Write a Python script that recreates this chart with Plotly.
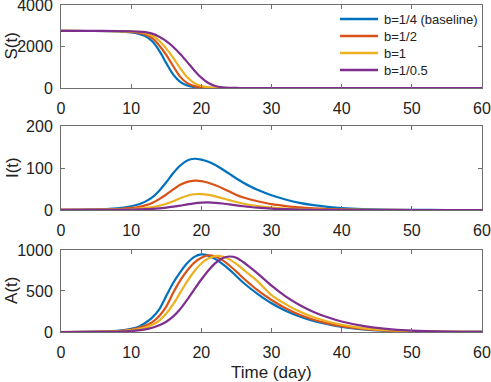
import plotly.graph_objects as go

# time points (days)
t = [0, 4, 8, 10, 11, 12, 13, 14, 15, 16, 17, 18, 19, 20, 21, 22, 23, 24, 25, 26, 27, 28,
     30, 32, 34, 36, 38, 40, 43, 46, 50, 55, 60]

series_names = ["b=1/4 (baseline)", "b=1/2", "b=1", "b=1/0.5"]
colors = ["#0072BD", "#D95319", "#EDB120", "#7E2F8E"]

# S(t)
S_b025 = [2750, 2748, 2730, 2680, 2620, 2500, 2250, 1800, 1200, 650, 300, 120, 45, 15, 5, 2, 1, 0, 0, 0, 0, 0,
          0, 0, 0, 0, 0, 0, 0, 0, 0, 0, 0]
S_b05 = [2750, 2749, 2740, 2710, 2670, 2580, 2400, 2050, 1600, 1050, 540, 240, 95, 35, 12, 4, 1, 0, 0, 0, 0, 0,
         0, 0, 0, 0, 0, 0, 0, 0, 0, 0, 0]
S_b1 = [2750, 2749, 2745, 2725, 2700, 2640, 2520, 2280, 1900, 1450, 950, 520, 240, 100, 40, 15, 5, 2, 1, 0, 0, 0,
        0, 0, 0, 0, 0, 0, 0, 0, 0, 0, 0]
S_b2 = [2750, 2750, 2747, 2735, 2720, 2690, 2620, 2470, 2260, 1980, 1640, 1250, 850, 500, 240, 100, 38, 14, 5, 2, 1, 0,
        0, 0, 0, 0, 0, 0, 0, 0, 0, 0, 0]

# I(t)
I_b025 = [0.5, 1, 4, 9, 13, 20, 30, 46, 66, 88, 106, 118, 122, 120, 115, 107, 97, 86, 75, 65, 56, 48,
          35, 25, 17, 11.5, 7.5, 4.5, 2, 1, 0.3, 0.1, 0]
I_b05 = [0.5, 1, 2.5, 5, 7, 11, 17, 26, 37, 49, 60, 67, 70, 69, 65, 59, 52, 44, 36, 30, 25, 21,
         14, 9.5, 6.2, 4, 2.5, 1.5, 0.7, 0.3, 0.1, 0, 0]
I_b1 = [0.3, 0.6, 1.3, 2.3, 3.2, 4.6, 7, 10, 15, 21, 28, 34, 37.5, 38, 36, 32.5, 28, 23.5, 19, 15, 12, 9.5,
        6, 3.6, 2.1, 1.2, 0.7, 0.4, 0.15, 0.05, 0, 0, 0]
I_b2 = [0.2, 0.3, 0.6, 1, 1.4, 2, 2.8, 4, 5.8, 8, 10.5, 13.5, 16, 17.5, 18, 17.2, 15.5, 13.3, 11, 9, 7.2, 5.7,
        3.4, 2, 1.1, 0.6, 0.3, 0.15, 0.05, 0, 0, 0, 0]

# A(t)
A_b025 = [0, 2, 15, 40, 62, 110, 175, 275, 440, 600, 730, 840, 915, 945, 930, 890, 830, 760, 680, 600, 530, 465,
          350, 260, 190, 135, 95, 62, 32, 16, 6, 2, 0.5]
A_b05 = [0, 1.5, 11, 30, 48, 75, 120, 195, 310, 480, 630, 750, 845, 905, 935, 920, 875, 810, 735, 655, 580, 510,
         390, 290, 210, 150, 105, 70, 37, 19, 7, 2, 0.5]
A_b1 = [0, 1, 8, 22, 35, 55, 88, 140, 225, 340, 480, 620, 740, 835, 895, 925, 920, 885, 830, 760, 690, 620,
        450, 340, 250, 180, 128, 88, 48, 25, 10, 3, 0.8]
A_b2 = [0, 0.5, 4, 12, 20, 32, 52, 82, 125, 190, 280, 395, 520, 640, 750, 840, 900, 920, 905, 850, 785, 715,
        565, 435, 330, 245, 180, 128, 75, 42, 17, 5, 1.5]

panels = [
    ("S(t)", [S_b025, S_b05, S_b1, S_b2], [0, 4000], [0, 2000, 4000]),
    ("I(t)", [I_b025, I_b05, I_b1, I_b2], [0, 200], [0, 100, 200]),
    ("A(t)", [A_b025, A_b05, A_b1, A_b2], [0, 1000], [0, 500, 1000]),
]

x_ticks = [0, 10, 20, 30, 40, 50, 60]

FONT = "Liberation Sans, Arial, Helvetica, sans-serif"
AXCOL = "#6e6e6e"
TXT = "#222"

W, H = 491, 382
ML, MR, MT, MB = 61, 9, 5, 50
PW, PH = W - ML - MR, H - MT - MB
fig = go.Figure()
domains = [[0.746, 1.0], [0.373, 0.630], [0.0, 0.251]]


def px_x(px):
    return (px - ML) / PW


def px_y(py):
    return (H - MB - py) / PH


for pi, (title, ys, yr, yt) in enumerate(panels):
    xa = "x" if pi == 0 else f"x{pi+1}"
    ya = "y" if pi == 0 else f"y{pi+1}"
    for si in range(4):
        fig.add_trace(go.Scatter(
            x=t, y=ys[si], mode="lines", name=series_names[si],
            line=dict(color=colors[si], width=2.2, shape="spline", smoothing=0.8),
            xaxis=xa, yaxis=ya, showlegend=False,
        ))
    xkey = "xaxis" if pi == 0 else f"xaxis{pi+1}"
    ykey = "yaxis" if pi == 0 else f"yaxis{pi+1}"
    fig.layout[xkey] = dict(
        domain=[0, 1], anchor=ya, range=[0, 60], tickvals=x_ticks, automargin=False,
        ticks="inside", ticklen=4, tickcolor=AXCOL, showline=True, linecolor=AXCOL, linewidth=1,
        mirror="ticks", showgrid=False, zeroline=False, ticklabeloverflow="allow",
        tickfont=dict(family=FONT, size=16, color=TXT), ticklabelstandoff=6,
    )
    fig.layout[ykey] = dict(
        domain=domains[pi], anchor=xa, range=yr, tickvals=yt, automargin=False,
        ticks="inside", ticklen=4, tickcolor=AXCOL, showline=True, linecolor=AXCOL, linewidth=1,
        mirror="ticks", showgrid=False, zeroline=False, ticklabeloverflow="allow",
        tickfont=dict(family=FONT, size=16, color=TXT), ticklabelstandoff=4,
    )
    d = domains[pi]
    fig.add_annotation(
        text=title, xref="paper", yref="paper", x=-(ML - 12) / PW, y=(d[0] + d[1]) / 2,
        xanchor="center", yanchor="middle", textangle=-90, showarrow=False,
        font=dict(family=FONT, size=17, color=TXT),
    )

fig.add_annotation(
    text="Time (day)", xref="paper", yref="paper", x=0.5, y=px_y(372),
    xanchor="center", yanchor="middle", showarrow=False,
    font=dict(family=FONT, size=17, color=TXT),
)

# compact legend (MATLAB style, no box)
legend_rows = [19, 36, 53, 70]
for si in range(4):
    yy = px_y(legend_rows[si])
    fig.add_shape(type="line", xref="paper", yref="paper",
                  x0=px_x(340), x1=px_x(378), y0=yy, y1=yy,
                  line=dict(color=colors[si], width=2.4))
    fig.add_annotation(
        text=series_names[si], xref="paper", yref="paper", x=px_x(382), y=yy,
        xanchor="left", yanchor="middle", showarrow=False,
        font=dict(family=FONT, size=13, color=TXT),
    )

fig.update_layout(
    width=W, height=H,
    margin=dict(l=ML, r=MR, t=MT, b=MB, autoexpand=False),
    paper_bgcolor="white", plot_bgcolor="white",
    showlegend=False,
)

fig.write_html("out.html", config={"displayModeBar": False},
               post_script="document.body.style.margin='0';document.body.style.overflow='hidden';")
